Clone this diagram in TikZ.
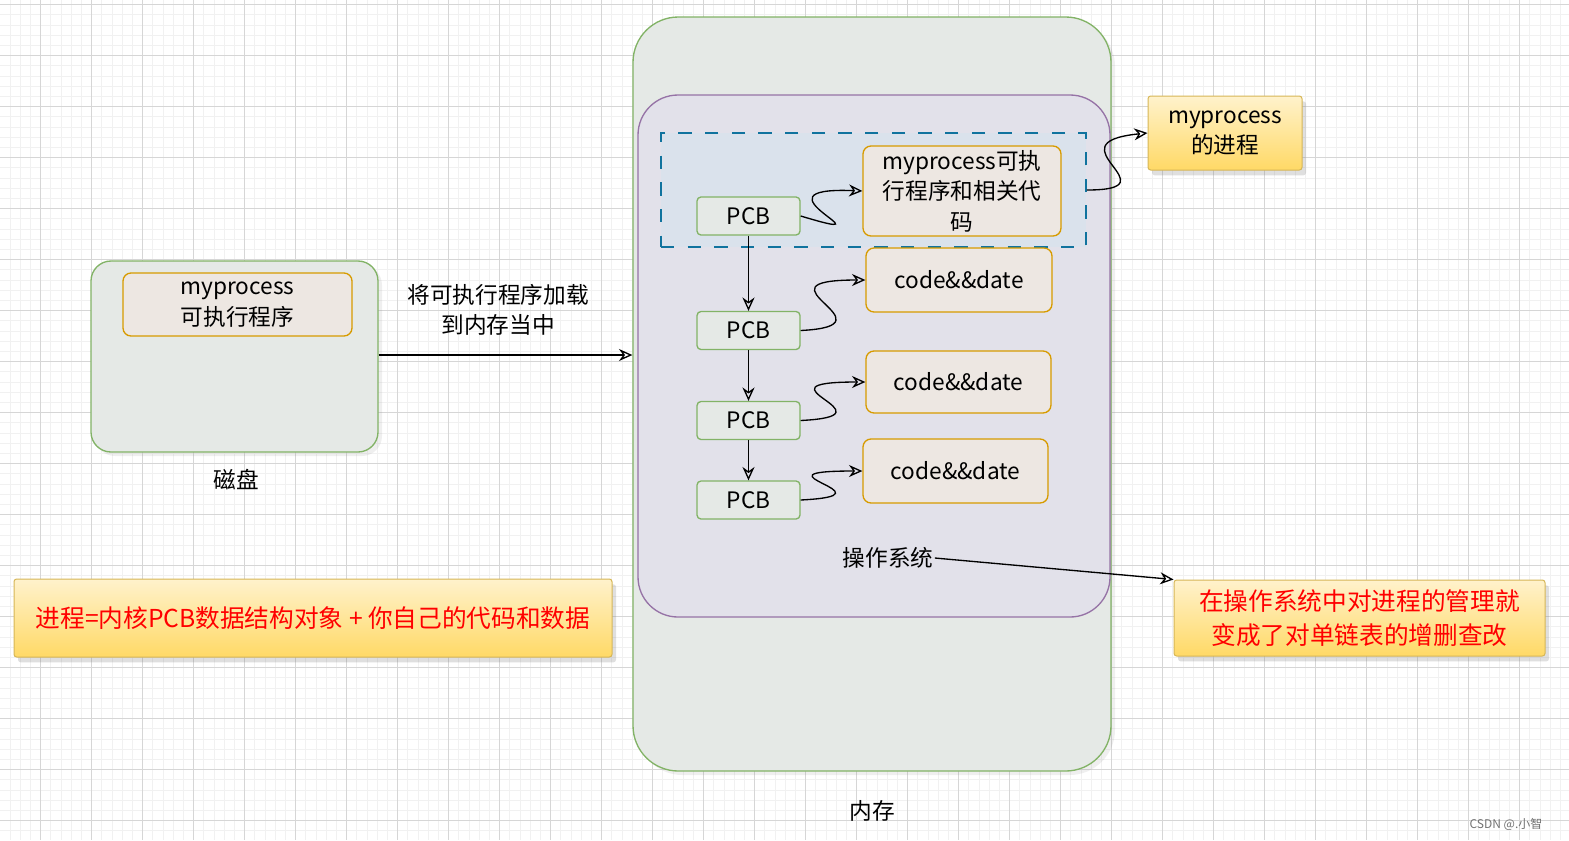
\documentclass[tikz,border=0pt]{standalone}
\usepackage{fontspec}
\setmainfont{Noto Sans CJK SC}
\usetikzlibrary{arrows.meta,shadows}

\definecolor{gridmajor}{RGB}{214,214,214}
\definecolor{gridminor}{RGB}{241,241,241}
\definecolor{greenline}{RGB}{130,179,102}
\definecolor{greenfill}{RGB}{229,233,230}
\definecolor{orangeline}{RGB}{215,155,0}
\definecolor{orangefill}{RGB}{237,231,226}
\definecolor{purpleline}{RGB}{150,115,166}
\definecolor{purplefill}{RGB}{226,225,234}
\definecolor{blueline}{RGB}{16,115,158}
\definecolor{bluefill}{RGB}{218,226,236}
\definecolor{noteline}{RGB}{214,182,86}
\definecolor{notetop}{RGB}{255,242,204}
\definecolor{notebottom}{RGB}{255,217,102}
\definecolor{notered}{RGB}{255,0,0}

\tikzset{every picture/.style={line width=0.75pt}}

\begin{document}
\begin{tikzpicture}[x=0.75pt,y=0.75pt,yscale=-1,xscale=1,
  hand/.style={font=\fontsize{17}{23}\selectfont, align=center, inner sep=0.75pt},
  boxshadow/.style={drop shadow={opacity=0.12, shadow xshift=3pt, shadow yshift=-3pt}},
  memorybox/.style={draw=greenline, line width=1pt, fill=greenfill, rounded corners=34pt, boxshadow},
  osbox/.style={draw=purpleline, line width=1pt, fill=purplefill, rounded corners=30pt},
  groupbox/.style={draw=blueline, line width=1.3pt, fill=bluefill, dash pattern={on 10pt off 10pt}},
  pcbbox/.style={hand, draw=greenline, line width=1pt, fill=greenfill, rounded corners=3pt, minimum width=77.25pt, minimum height=28.5pt},
  codebox/.style={hand, draw=orangeline, line width=1pt, fill=orangefill, rounded corners=6pt},
  notebox/.style={hand, draw=noteline, top color=notetop, bottom color=notebottom, rounded corners=2pt, drop shadow={opacity=0.25, shadow xshift=3pt, shadow yshift=-4pt}},
  redtext/.style={text=notered, font=\fontsize{18.5}{25}\selectfont},
  link/.style={line width=1pt, -{Stealth[open, length=10pt, width=9pt]}},
]
    \useasboundingbox (0,0) rectangle (1569,840);
    % Grid
    \fill [white] (0,0) rectangle (1569,840);
    \foreach \k in {0,...,152} {\draw [gridminor, line width=0.6pt] ({9.9+10.2*\k},0) -- ({9.9+10.2*\k},840);}
    \foreach \k in {0,...,82} {\draw [gridminor, line width=0.6pt] (0,{4.5+10.2*\k}) -- (1569,{4.5+10.2*\k});}
    \foreach \k in {0,...,30} {\draw [gridmajor, line width=0.6pt] ({40.5+51*\k},0) -- ({40.5+51*\k},840);}
    \foreach \k in {0,...,16} {\draw [gridmajor, line width=0.6pt] (0,{4.5+51*\k}) -- (1569,{4.5+51*\k});}

    % Text Node
    \node [memorybox, minimum width=358.5pt, minimum height=565.5pt] (mem) at (872,394) {};
    \node [hand] (memlabel) at (872,811) {内存};
    % Text Node
    \node [osbox, minimum width=354pt, minimum height=391.5pt] (os) at (874,356) {};
    \node [hand] (oslabel) at (888,558) {操作系统};
    % Text Node
    \node [groupbox, minimum width=318.75pt, minimum height=85.5pt] (group) at (873.5,190) {};
    % Text Node
    \node [memorybox, rounded corners=15pt, minimum width=215.25pt, minimum height=143.25pt] (disk) at (234.5,356.5) {};
    \node [codebox, minimum width=171.75pt, minimum height=47.25pt] (exe) at (237.5,304.5) {myprocess\\可执行程序};
    \node [hand] (disklabel) at (236,480) {磁盘};
    % PCB list
    \node [pcbbox] (pcb1) at (748.5,216) {PCB};
    \node [pcbbox] (pcb2) at (748.5,330.5) {PCB};
    \node [pcbbox] (pcb3) at (748.5,420.5) {PCB};
    \node [pcbbox] (pcb4) at (748.5,500) {PCB};
    % Text Node
    \node [codebox, minimum width=148.5pt, minimum height=67.5pt] (code1) at (962,191) {myprocess可执\\行程序和相关代\\码};
    \node [codebox, minimum width=139.5pt, minimum height=48pt] (code2) at (959,280) {code\&\&date};
    \node [codebox, minimum width=138.75pt, minimum height=46.5pt] (code3) at (958.5,382) {code\&\&date};
    \node [codebox, minimum width=138.75pt, minimum height=48pt] (code4) at (955.5,471) {code\&\&date};
    % Text Node
    \node [notebox, minimum width=115.5pt, minimum height=55.5pt] (proc) at (1225,133) {myprocess\\的进程};
    \node [notebox, redtext, minimum width=278.25pt, minimum height=57pt] (manage) at (1359.5,618) {在操作系统中对进程的管理就\\变成了对单链表的增删查改};
    \node [notebox, redtext, minimum width=448.5pt, minimum height=58.5pt] (formula) at (313,618) {进程=内核PCB数据结构对象 + 你自己的代码和数据};
    % Text Node
    \node [hand] (loadlabel) at (498,310) {将可执行程序加载\\到内存当中};
    \node [text=black!55, font=\fontsize{9}{11}\selectfont, inner sep=0.75pt] (mark) at (1506,824) {CSDN @.小智};

    % Connection
    \draw [link] (disk.east |- 0,355) -- (mem.west |- 0,355);
    % Connection
    \draw [link] (pcb1) -- (pcb2);
    \draw [link] (pcb2) -- (pcb3);
    \draw [link] (pcb3) -- (pcb4);
    % Connection
    \draw [link] (pcb1.east) .. controls +(100,30) and +(-120,-5) .. (code1.west);
    \draw [link] (pcb2.east) .. controls +(100,-5) and +(-120,0) .. (code2.west);
    \draw [link] (pcb3.east) .. controls +(100,-5) and +(-120,0) .. (code3.west);
    \draw [link] (pcb4.east) .. controls +(100,-5) and +(-120,0) .. (code4.west);
    % Connection
    \draw [link] (group.east) .. controls +(90,0) and +(-100,10) .. (proc.west);
    % Connection
    \draw [link] (oslabel.east) -- (manage.north west);

\end{tikzpicture}
\end{document}
